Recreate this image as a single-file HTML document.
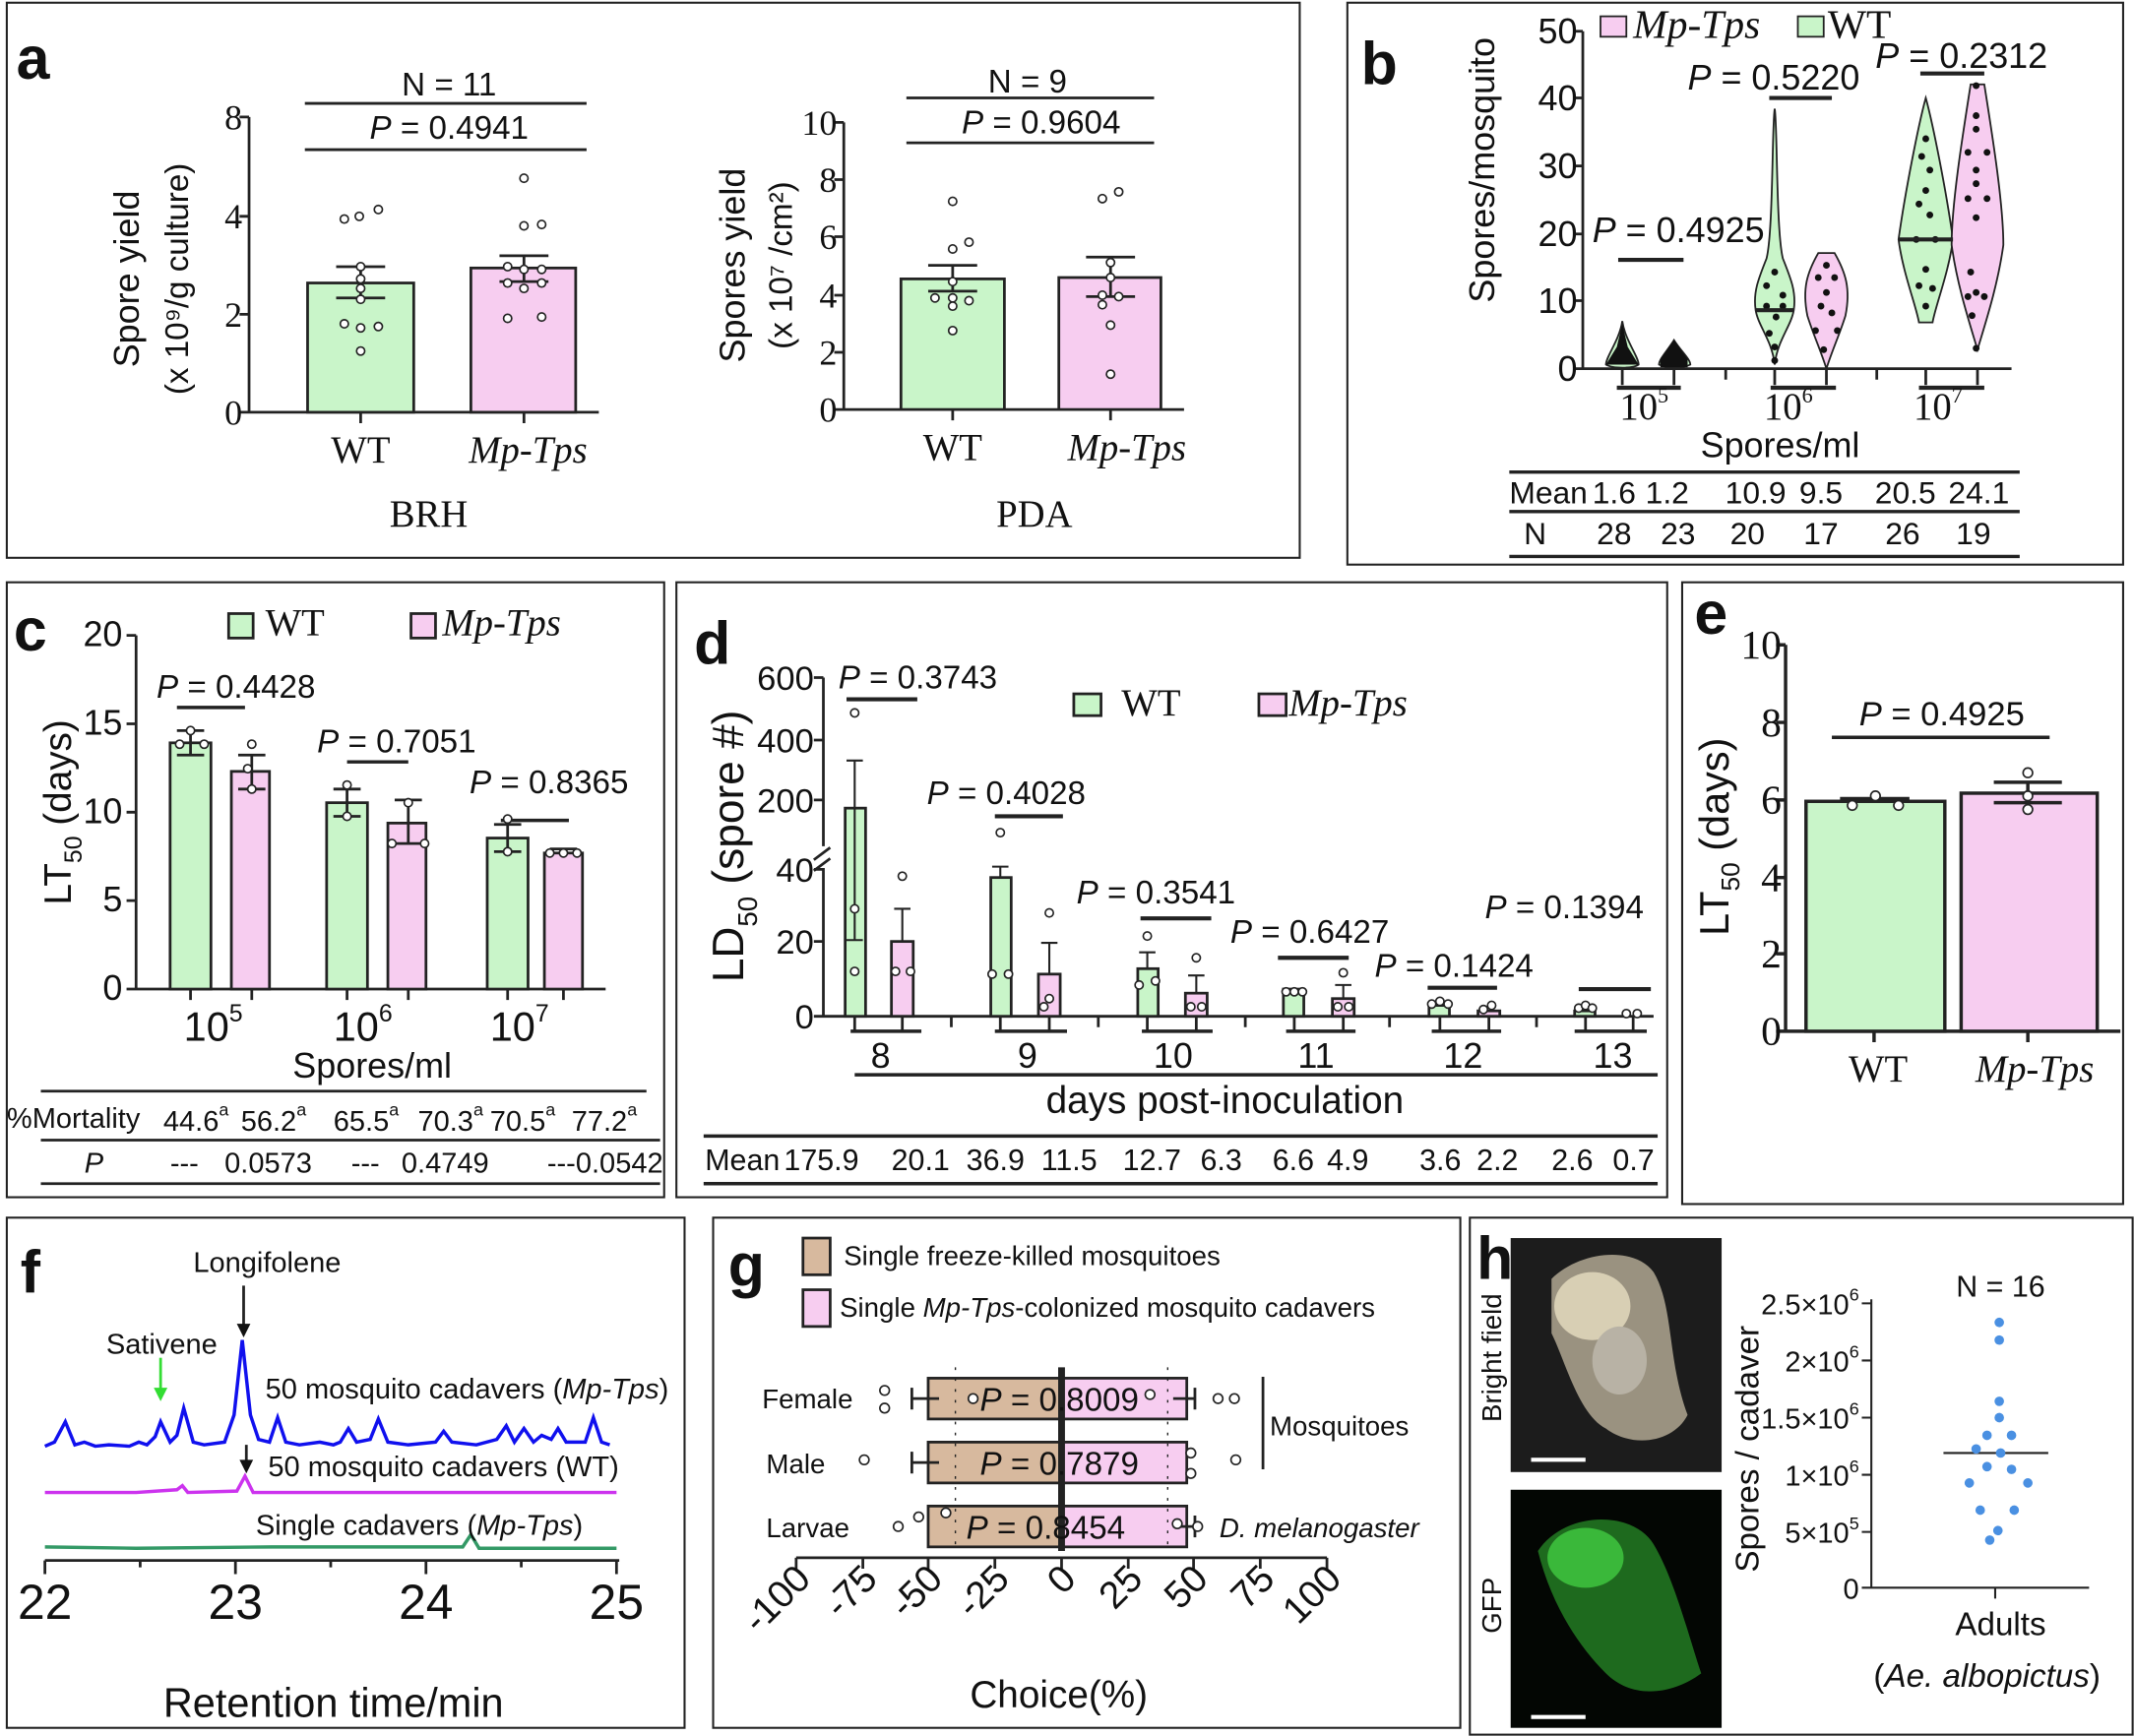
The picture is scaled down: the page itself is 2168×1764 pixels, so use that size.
<!DOCTYPE html>
<html><head><meta charset="utf-8"><style>
html,body{margin:0;padding:0;background:#fff}
svg{display:block}
text{font-family:"Liberation Sans",sans-serif;fill:#111}
.s{font-family:"Liberation Serif",serif}
.i{font-style:italic}
</style></head><body>
<svg width="2168" height="1764" viewBox="0 0 1568 1276" preserveAspectRatio="none" xmlns="http://www.w3.org/2000/svg">
<g fill="none" stroke="#222" stroke-width="1.5">
<rect x="5" y="2" width="950" height="408"/>
<rect x="990" y="2" width="570" height="413"/>
<rect x="5" y="428" width="483" height="452"/>
<rect x="497" y="428" width="728" height="452"/>
<rect x="1236" y="428" width="324" height="457"/>
<rect x="5" y="895" width="498" height="375"/>
<rect x="524" y="895" width="549" height="375"/>
<rect x="1080" y="895" width="487" height="380"/>
</g>
<g font-weight="bold" font-size="44">
<text x="12" y="58">a</text><text x="1000" y="62">b</text><text x="10" y="478">c</text>
<text x="510" y="488">d</text><text x="1245" y="466">e</text><text x="15" y="950">f</text>
<text x="535" y="945">g</text><text x="1085" y="940">h</text></g>

<!-- panel a left -->
<g stroke="#222" stroke-width="2" fill="none">
<path d="M183 86V303H440M176 86H183M176 159H183M176 231H183M176 303H183M265 303v8M385 303v8"/>
<rect x="226" y="208" width="78" height="95" fill="#c9f5c9"/>
<rect x="346" y="197" width="77" height="106" fill="#f7cdf0"/>
<path d="M224 76H431M224 110H431M247 196H283M265 196V219M247 219H283M367 188H403M385 188V207M367 207H403"/>
</g>
<g fill="#fff" stroke="#222" stroke-width="1.2">
<circle cx="253" cy="161" r="3"/><circle cx="264" cy="159" r="3"/><circle cx="278" cy="154" r="3"/><circle cx="265" cy="196" r="3"/><circle cx="265" cy="205" r="3"/><circle cx="265" cy="212" r="3"/><circle cx="265" cy="220" r="3"/><circle cx="253" cy="238" r="3"/><circle cx="265" cy="241" r="3"/><circle cx="278" cy="240" r="3"/><circle cx="265" cy="258" r="3"/>
<circle cx="385" cy="131" r="3"/><circle cx="385" cy="166" r="3"/><circle cx="398" cy="165" r="3"/><circle cx="373" cy="196" r="3"/><circle cx="385" cy="198" r="3"/><circle cx="398" cy="198" r="3"/><circle cx="373" cy="208" r="3"/><circle cx="385" cy="212" r="3"/><circle cx="398" cy="208" r="3"/><circle cx="373" cy="234" r="3"/><circle cx="398" cy="233" r="3"/>
</g>
<g font-size="26" text-anchor="end"><text class="s" x="178" y="95">8</text><text class="s" x="178" y="168">4</text><text class="s" x="178" y="240">2</text><text class="s" x="178" y="312">0</text></g>
<g font-size="28" text-anchor="middle"><text class="s" x="265" y="340">WT</text><text class="s i" x="388" y="340">Mp-Tps</text><text class="s" x="315" y="387">BRH</text>
<text x="330" y="70" font-size="24">N = 11</text><text x="330" y="102" font-size="24"><tspan class="i">P</tspan> = 0.4941</text></g>
<text transform="translate(102,205) rotate(-90)" text-anchor="middle" font-size="26">Spore yield</text>
<text transform="translate(138,205) rotate(-90)" text-anchor="middle" font-size="24">(x 10⁹/g culture)</text>

<!-- panel a right -->
<g stroke="#222" stroke-width="2" fill="none">
<path d="M620 90V301H870M613 90H620M613 132H620M613 174H620M613 217H620M613 259H620M613 301H620M700 301v8M816 301v8"/>
<rect x="662" y="205" width="76" height="96" fill="#c9f5c9"/>
<rect x="778" y="204" width="75" height="97" fill="#f7cdf0"/>
<path d="M666 72H848M666 105H848M682 195H718M700 195V214M682 214H718M798 189H834M816 189V218M798 218H834"/>
</g>
<g fill="#fff" stroke="#222" stroke-width="1.2">
<circle cx="700" cy="148" r="3"/><circle cx="700" cy="183" r="3"/><circle cx="712" cy="178" r="3"/><circle cx="700" cy="207" r="3"/><circle cx="687" cy="219" r="3"/><circle cx="700" cy="219" r="3"/><circle cx="712" cy="221" r="3"/><circle cx="700" cy="225" r="3"/><circle cx="700" cy="243" r="3"/>
<circle cx="810" cy="146" r="3"/><circle cx="822" cy="141" r="3"/><circle cx="816" cy="193" r="3"/><circle cx="816" cy="204" r="3"/><circle cx="810" cy="217" r="3"/><circle cx="822" cy="218" r="3"/><circle cx="810" cy="224" r="3"/><circle cx="816" cy="239" r="3"/><circle cx="816" cy="275" r="3"/>
</g>
<g font-size="26" text-anchor="end"><text class="s" x="615" y="99">10</text><text class="s" x="615" y="141">8</text><text class="s" x="615" y="183">6</text><text class="s" x="615" y="226">4</text><text class="s" x="615" y="268">2</text><text class="s" x="615" y="310">0</text></g>
<g font-size="28" text-anchor="middle"><text class="s" x="700" y="338">WT</text><text class="s i" x="828" y="338">Mp-Tps</text><text class="s" x="760" y="387">PDA</text>
<text x="755" y="68" font-size="24">N = 9</text><text x="765" y="98" font-size="24"><tspan class="i">P</tspan> = 0.9604</text></g>
<text transform="translate(547,195) rotate(-90)" text-anchor="middle" font-size="26">Spores yield</text>
<text transform="translate(582,195) rotate(-90)" text-anchor="middle" font-size="24">(x 10⁷ /cm²)</text>

<!-- panel b -->
<g stroke="#222" stroke-width="1.3">
<path d="M1192 236C1190 250 1180 262 1180 268C1185 271 1200 271 1204 268C1204 262 1194 250 1192 236Z" fill="#c9f5c9"/>
<path d="M1230 250C1225 258 1219 264 1219 268C1225 271 1236 271 1242 268C1242 264 1235 258 1230 250Z" fill="#c9f5c9"/>
<path d="M1304 80C1302 90 1303 170 1298 190C1292 205 1288 215 1290 228C1292 240 1302 250 1304 268C1306 250 1316 240 1318 228C1320 215 1316 205 1310 190C1305 170 1306 90 1304 80Z" fill="#c9f5c9"/>
<path d="M1336 186H1348C1356 200 1360 212 1356 232C1352 245 1346 258 1342 271C1338 258 1332 245 1328 232C1324 212 1328 200 1336 186Z" fill="#f7cdf0"/>
<path d="M1415 72C1410 90 1400 140 1395 176C1398 200 1408 225 1410 237H1420C1422 225 1432 200 1435 176C1430 140 1420 90 1415 72Z" fill="#c9f5c9"/>
<path d="M1448 62H1458C1464 100 1472 150 1472 180C1468 210 1458 240 1453 257C1448 240 1438 210 1434 180C1434 150 1442 100 1448 62Z" fill="#f7cdf0"/>
<rect x="1176" y="12" width="19" height="15" fill="#f7cdf0"/><rect x="1321" y="12" width="19" height="15" fill="#c9f5c9"/>
</g>
<g fill="#111">
<path d="M1192 238L1196 255L1204 268H1180L1188 255Z"/><path d="M1230 250L1240 264V270H1220V264Z"/>
<circle cx="1298" cy="210" r="2.5"/><circle cx="1304" cy="200" r="2.5"/><circle cx="1310" cy="217" r="2.5"/><circle cx="1298" cy="225" r="2.5"/><circle cx="1305" cy="233" r="2.5"/><circle cx="1310" cy="225" r="2.5"/><circle cx="1300" cy="245" r="2.5"/><circle cx="1304" cy="255" r="2.5"/><circle cx="1304" cy="265" r="2.5"/>
<circle cx="1342" cy="195" r="2.5"/><circle cx="1336" cy="204" r="2.5"/><circle cx="1348" cy="204" r="2.5"/><circle cx="1342" cy="215" r="2.5"/><circle cx="1338" cy="225" r="2.5"/><circle cx="1346" cy="230" r="2.5"/><circle cx="1334" cy="243" r="2.5"/><circle cx="1350" cy="243" r="2.5"/><circle cx="1340" cy="257" r="2.5"/>
<circle cx="1415" cy="102" r="2.5"/><circle cx="1412" cy="115" r="2.5"/><circle cx="1418" cy="125" r="2.5"/><circle cx="1415" cy="140" r="2.5"/><circle cx="1410" cy="150" r="2.5"/><circle cx="1418" cy="158" r="2.5"/><circle cx="1408" cy="176" r="2.5"/><circle cx="1422" cy="176" r="2.5"/><circle cx="1415" cy="198" r="2.5"/><circle cx="1410" cy="210" r="2.5"/><circle cx="1420" cy="212" r="2.5"/><circle cx="1415" cy="225" r="2.5"/>
<circle cx="1452" cy="63" r="2.5"/><circle cx="1452" cy="85" r="2.5"/><circle cx="1452" cy="95" r="2.5"/><circle cx="1446" cy="112" r="2.5"/><circle cx="1460" cy="112" r="2.5"/><circle cx="1452" cy="125" r="2.5"/><circle cx="1452" cy="135" r="2.5"/><circle cx="1446" cy="146" r="2.5"/><circle cx="1460" cy="146" r="2.5"/><circle cx="1452" cy="160" r="2.5"/><circle cx="1448" cy="200" r="2.5"/><circle cx="1452" cy="215" r="2.5"/><circle cx="1446" cy="218" r="2.5"/><circle cx="1458" cy="218" r="2.5"/><circle cx="1449" cy="232" r="2.5"/><circle cx="1452" cy="256" r="2.5"/>
</g>
<g stroke="#222" stroke-width="2" fill="none">
<path d="M1163 23V271H1478M1156 23H1163M1156 72H1163M1156 122H1163M1156 172H1163M1156 221H1163M1156 271H1163"/>
<path d="M1192 271v12M1230 271v12M1268 271v8M1304 271v12M1342 271v12M1379 271v8M1415 271v12M1453 271v12"/>
<path d="M1188 285H1235M1301 285H1349M1410 285H1458" stroke-width="3"/>
<path d="M1189 191H1237M1300 72H1346M1411 54H1458M1395 176H1435M1290 228H1318" stroke-width="3"/>
<path d="M1109 347H1484M1109 376H1484M1109 409H1484" stroke-width="2.5"/>
</g>
<g font-size="26" text-anchor="end"><text x="1159" y="32">50</text><text x="1159" y="81">40</text><text x="1159" y="131">30</text><text x="1159" y="181">20</text><text x="1159" y="230">10</text><text x="1159" y="280">0</text></g>
<g font-size="26"><text class="s i" x="1200" y="28" font-size="30">Mp-Tps</text><text class="s" x="1343" y="28" font-size="30">WT</text>
<text x="1170" y="178"><tspan class="i">P</tspan> = 0.4925</text><text x="1240" y="66"><tspan class="i">P</tspan> = 0.5220</text><text x="1378" y="50"><tspan class="i">P</tspan> = 0.2312</text>
<text class="s" x="1190" y="308" font-size="28">10<tspan font-size="16" dy="-12">5</tspan></text><text class="s" x="1296" y="308" font-size="28">10<tspan font-size="16" dy="-12">6</tspan></text><text class="s" x="1406" y="308" font-size="28">10<tspan font-size="16" dy="-12">7</tspan></text>
<text x="1308" y="336" text-anchor="middle">Spores/ml</text></g>
<g font-size="23" text-anchor="middle"><text x="1109" y="370" text-anchor="start">Mean</text><text x="1186" y="370">1.6</text><text x="1225" y="370">1.2</text><text x="1290" y="370">10.9</text><text x="1338" y="370">9.5</text><text x="1400" y="370">20.5</text><text x="1454" y="370">24.1</text>
<text x="1128" y="400">N</text><text x="1186" y="400">28</text><text x="1233" y="400">23</text><text x="1284" y="400">20</text><text x="1338" y="400">17</text><text x="1398" y="400">26</text><text x="1450" y="400">19</text></g>
<text transform="translate(1098,125) rotate(-90)" text-anchor="middle" font-size="26">Spores/mosquito</text>

<!-- panel c -->
<g stroke="#222" stroke-width="2" fill="none">
<path d="M100 467V727H445M93 467H100M93 532H100M93 597H100M93 662H100M93 727H100M140 727v8M185 727v8M255 727v8M300 727v8M373 727v8M414 727v8"/>
<rect x="125" y="546" width="30" height="181" fill="#c9f5c9"/><rect x="170" y="567" width="28" height="160" fill="#f7cdf0"/>
<rect x="240" y="590" width="30" height="137" fill="#c9f5c9"/><rect x="285" y="605" width="28" height="122" fill="#f7cdf0"/>
<rect x="358" y="616" width="30" height="111" fill="#c9f5c9"/><rect x="400" y="627" width="28" height="100" fill="#f7cdf0"/>
<rect x="168" y="451" width="18" height="18" fill="#c9f5c9"/><rect x="302" y="451" width="18" height="18" fill="#f7cdf0"/>
<path d="M130 537H150M140 537V555M130 555H150M175 555H195M185 555V580M175 580H195M245 580H265M255 580V600M245 600H265M290 588H310M300 588V620M290 620H310M363 606H383M373 606V626M363 626H383M404 624H424"/>
<path d="M130 520H180M255 560H300M368 603H418" stroke-width="2.5"/>
<path d="M30 802H475M30 838H485M30 870H485"/>
</g>
<g fill="#fff" stroke="#222" stroke-width="1.2"><circle cx="132" cy="547" r="3"/><circle cx="140" cy="537" r="3"/><circle cx="150" cy="547" r="3"/><circle cx="185" cy="547" r="3"/><circle cx="185" cy="580" r="3"/><circle cx="182" cy="565" r="3"/><circle cx="255" cy="577" r="3"/><circle cx="255" cy="600" r="3"/><circle cx="288" cy="620" r="3"/><circle cx="300" cy="590" r="3"/><circle cx="312" cy="620" r="3"/><circle cx="373" cy="602" r="3"/><circle cx="373" cy="626" r="3"/><circle cx="404" cy="627" r="3"/><circle cx="414" cy="627" r="3"/><circle cx="424" cy="627" r="3"/></g>
<g font-size="26" text-anchor="end"><text x="90" y="475">20</text><text x="90" y="540">15</text><text x="90" y="605">10</text><text x="90" y="670">5</text><text x="90" y="735">0</text></g>
<g font-size="28"><text class="s" x="195" y="467">WT</text><text class="s i" x="325" y="467">Mp-Tps</text></g>
<g font-size="24"><text x="115" y="513"><tspan class="i">P</tspan> = 0.4428</text><text x="233" y="553"><tspan class="i">P</tspan> = 0.7051</text><text x="345" y="583"><tspan class="i">P</tspan> = 0.8365</text></g>
<g font-size="30"><text x="135" y="765">10<tspan font-size="18" dy="-14">5</tspan></text><text x="245" y="765">10<tspan font-size="18" dy="-14">6</tspan></text><text x="360" y="765">10<tspan font-size="18" dy="-14">7</tspan></text></g>
<text x="215" y="792" font-size="26">Spores/ml</text>
<g font-size="21"><text x="5" y="829">%Mortality</text>
<text x="120" y="831">44.6<tspan font-size="13" dy="-11">a</tspan></text><text x="177" y="831">56.2<tspan font-size="13" dy="-11">a</tspan></text><text x="245" y="831">65.5<tspan font-size="13" dy="-11">a</tspan></text><text x="307" y="831">70.3<tspan font-size="13" dy="-11">a</tspan></text><text x="360" y="831">70.5<tspan font-size="13" dy="-11">a</tspan></text><text x="420" y="831">77.2<tspan font-size="13" dy="-11">a</tspan></text>
<text x="62" y="862" class="i">P</text><text x="125" y="862">---</text><text x="165" y="862">0.0573</text><text x="258" y="862">---</text><text x="295" y="862">0.4749</text><text x="402" y="862">---</text><text x="423" y="862">0.0542</text></g>
<text transform="translate(52,597) rotate(-90)" text-anchor="middle" font-size="28">LT<tspan font-size="18" dy="8">50</tspan><tspan dy="-8"> (days)</tspan></text>

<!-- panel d -->
<g stroke="#222" stroke-width="2" fill="none">
<path d="M605 498V622M605 638V747H1215M598 498H605M598 544H605M598 588H605M598 639H605M598 692H605M598 747H605"/>
<path d="M598 632l12-9M598 640l12-9"/>
<path d="M628 747v10M663 747v10M699 747v8M735 747v10M771 747v10M807 747v8M843 747v10M879 747v10M915 747v8M951 747v10M987 747v10M1021 747v8M1058 747v10M1094 747v10M1129 747v8M1165 747v10M1200 747v10"/>
<rect x="621" y="594" width="15" height="153" fill="#c9f5c9"/><rect x="655" y="692" width="16" height="55" fill="#f7cdf0"/>
<rect x="728" y="645" width="15" height="102" fill="#c9f5c9"/><rect x="763" y="716" width="16" height="31" fill="#f7cdf0"/>
<rect x="836" y="712" width="15" height="35" fill="#c9f5c9"/><rect x="871" y="730" width="16" height="17" fill="#f7cdf0"/>
<rect x="943" y="727" width="15" height="20" fill="#c9f5c9"/><rect x="979" y="734" width="16" height="13" fill="#f7cdf0"/>
<rect x="1050" y="739" width="15" height="8" fill="#c9f5c9"/><rect x="1086" y="743" width="16" height="4" fill="#f7cdf0"/>
<rect x="1157" y="743" width="15" height="4" fill="#c9f5c9"/>
<rect x="789" y="510" width="20" height="16" fill="#c9f5c9"/><rect x="925" y="510" width="20" height="16" fill="#f7cdf0"/>
<path d="M628 559V691M622 559H634M622 691H634M663 668V692M657 668H669M735 637V645M729 637H741M771 693V716M765 693H777M843 700V712M837 700H849M879 717V730M873 717H885M987 724V734M981 724H993" stroke-width="1.5"/>
<path d="M622 514H674M731 600H781M838 675H890M939 704H991M1049 726H1100M1160 727H1213" stroke-width="3"/>
<path d="M625 758H677M731 758H784M839 758H891M945 758H996M1052 758H1103M1157 758H1210M628 790H1218M517 835H1218M517 870H1218" stroke-width="2.5"/>
</g>
<g fill="#fff" stroke="#222" stroke-width="1.2"><circle cx="628" cy="524" r="3"/><circle cx="628" cy="668" r="3"/><circle cx="628" cy="714" r="3"/><circle cx="663" cy="644" r="3"/><circle cx="658" cy="714" r="3"/><circle cx="669" cy="714" r="3"/><circle cx="735" cy="612" r="3"/><circle cx="729" cy="716" r="3"/><circle cx="741" cy="716" r="3"/><circle cx="771" cy="671" r="3"/><circle cx="771" cy="734" r="3"/><circle cx="767" cy="740" r="3"/><circle cx="843" cy="688" r="3"/><circle cx="837" cy="724" r="3"/><circle cx="849" cy="721" r="3"/><circle cx="879" cy="704" r="3"/><circle cx="875" cy="740" r="3"/><circle cx="883" cy="740" r="3"/><circle cx="945" cy="729" r="3"/><circle cx="951" cy="729" r="3"/><circle cx="957" cy="729" r="3"/><circle cx="987" cy="715" r="3"/><circle cx="983" cy="740" r="3"/><circle cx="991" cy="740" r="3"/><circle cx="1052" cy="738" r="3"/><circle cx="1058" cy="736" r="3"/><circle cx="1064" cy="738" r="3"/><circle cx="1090" cy="742" r="3"/><circle cx="1096" cy="739" r="3"/><circle cx="1160" cy="741" r="3"/><circle cx="1165" cy="739" r="3"/><circle cx="1170" cy="741" r="3"/><circle cx="1195" cy="745" r="3"/><circle cx="1203" cy="745" r="3"/></g>
<g font-size="25" text-anchor="end"><text x="598" y="507">600</text><text x="598" y="553">400</text><text x="598" y="597">200</text><text x="598" y="648">40</text><text x="598" y="701">20</text><text x="598" y="756">0</text></g>
<g font-size="24"><text x="616" y="506"><tspan class="i">P</tspan> = 0.3743</text><text x="681" y="591"><tspan class="i">P</tspan> = 0.4028</text><text x="791" y="664"><tspan class="i">P</tspan> = 0.3541</text><text x="904" y="693"><tspan class="i">P</tspan> = 0.6427</text><text x="1010" y="718"><tspan class="i">P</tspan> = 0.1424</text><text x="1091" y="675"><tspan class="i">P</tspan> = 0.1394</text></g>
<g font-size="28"><text class="s" x="824" y="526">WT</text><text class="s i" x="947" y="526">Mp-Tps</text></g>
<g font-size="26" text-anchor="middle"><text x="647" y="785">8</text><text x="755" y="785">9</text><text x="862" y="785">10</text><text x="967" y="785">11</text><text x="1075" y="785">12</text><text x="1185" y="785">13</text><text x="900" y="818" font-size="28">days post-inoculation</text></g>
<g font-size="22"><text x="518" y="860">Mean</text><text x="576" y="860">175.9</text><text x="655" y="860">20.1</text><text x="710" y="860">36.9</text><text x="765" y="860">11.5</text><text x="825" y="860">12.7</text><text x="882" y="860">6.3</text><text x="935" y="860">6.6</text><text x="975" y="860">4.9</text><text x="1043" y="860">3.6</text><text x="1085" y="860">2.2</text><text x="1140" y="860">2.6</text><text x="1185" y="860">0.7</text></g>
<text transform="translate(546,622) rotate(-90)" text-anchor="middle" font-size="32">LD<tspan font-size="20" dy="10">50</tspan><tspan dy="-10"> (spore #)</tspan></text>

<!-- panel e -->
<g stroke="#222" stroke-width="2.5" fill="none">
<path d="M1312 474V758H1558M1305 474H1312M1305 531H1312M1305 588H1312M1305 645H1312M1305 701H1312M1305 758H1312M1377 758v8M1490 758v8"/>
<rect x="1327" y="589" width="102" height="169" fill="#c9f5c9"/><rect x="1441" y="583" width="100" height="175" fill="#f7cdf0"/>
<path d="M1346 542H1506M1352 587H1403M1465 575H1515M1490 575V590M1465 590H1515"/>
</g>
<g fill="#fff" stroke="#222" stroke-width="1.2"><circle cx="1361" cy="592" r="3.5"/><circle cx="1378" cy="585" r="3.5"/><circle cx="1395" cy="592" r="3.5"/><circle cx="1490" cy="568" r="3.5"/><circle cx="1490" cy="585" r="3.5"/><circle cx="1490" cy="595" r="3.5"/></g>
<g font-size="30" text-anchor="end"><text class="s" x="1309" y="484">10</text><text class="s" x="1309" y="541">8</text><text class="s" x="1309" y="598">6</text><text class="s" x="1309" y="655">4</text><text class="s" x="1309" y="711">2</text><text class="s" x="1309" y="768">0</text></g>
<text x="1366" y="533" font-size="25"><tspan class="i">P</tspan> = 0.4925</text>
<g font-size="28" text-anchor="middle"><text class="s" x="1380" y="795">WT</text><text class="s i" x="1495" y="795">Mp-Tps</text></g>
<text transform="translate(1270,615) rotate(-90)" text-anchor="middle" font-size="30">LT<tspan font-size="19" dy="8">50</tspan><tspan dy="-8"> (days)</tspan></text>

<!-- panel f -->
<g stroke="#222" stroke-width="2" fill="none"><path d="M33 1147H455M33 1147v10M103 1147v5M173 1147v10M243 1147v5M313 1147v10M383 1147v5M453 1147v10"/>
<path d="M179 945V975M181 1062V1075"/></g>
<path d="M179 983l-5-10h10z M181 1083l-5-10h10z" fill="#111"/>
<path d="M118 1030l-5-10h10z" fill="#33dd33"/><path d="M118 998V1022" stroke="#33dd33" stroke-width="2"/>
<path d="M33 1063L40 1060L48 1045L55 1062L62 1060L70 1063L80 1062L95 1063L102 1060L108 1062L114 1056L118 1045L125 1060L130 1055L135 1035L142 1060L150 1062L165 1060L172 1040L178 985L184 1040L190 1058L198 1060L204 1042L210 1060L220 1062L235 1060L245 1062L250 1060L256 1050L262 1060L272 1058L278 1043L285 1060L300 1062L320 1060L326 1052L332 1060L350 1062L365 1058L372 1048L378 1060L385 1050L392 1060L398 1055L405 1058L410 1050L416 1060L430 1060L436 1042L442 1060L448 1062" fill="none" stroke="#1010ee" stroke-width="2.5"/>
<path d="M33 1097L100 1097L130 1095L134 1092L138 1097L174 1096L180 1085L186 1097L453 1097" fill="none" stroke="#cc33ee" stroke-width="2.5"/>
<path d="M33 1137L100 1138L200 1137L340 1137L346 1128L352 1138L453 1138" fill="none" stroke="#339966" stroke-width="2.5"/>
<g font-size="21"><text x="142" y="935">Longifolene</text><text x="78" y="995">Sativene</text><text x="195" y="1028">50 mosquito cadavers (<tspan class="i">Mp-Tps</tspan>)</text><text x="197" y="1085">50 mosquito cadavers (WT)</text><text x="188" y="1128">Single cadavers (<tspan class="i">Mp-Tps</tspan>)</text></g>
<g font-size="36" text-anchor="middle"><text x="33" y="1190">22</text><text x="173" y="1190">23</text><text x="313" y="1190">24</text><text x="453" y="1190">25</text></g>
<text x="245" y="1262" font-size="30" text-anchor="middle">Retention time/min</text>

<!-- panel g -->
<g stroke="#222" stroke-width="2">
<rect x="590" y="910" width="20" height="27" fill="#d7b99e"/><rect x="590" y="948" width="20" height="27" fill="#f7cdf0"/>
<rect x="682" y="1013" width="98" height="30" fill="#d7b99e"/><rect x="780" y="1013" width="92" height="30" fill="#f7cdf0"/>
<rect x="682" y="1060" width="98" height="30" fill="#d7b99e"/><rect x="780" y="1060" width="92" height="30" fill="#f7cdf0"/>
<rect x="682" y="1107" width="98" height="30" fill="#d7b99e"/><rect x="780" y="1107" width="92" height="30" fill="#f7cdf0"/>
<path d="M585 1145H975M585 1145v8M634 1145v8M682 1145v8M731 1145v8M780 1145v8M829 1145v8M877 1145v8M926 1145v8M975 1145v8M928 1012V1080M670 1020V1036M670 1028H690M670 1067V1083M670 1075H690M878 1020V1036M862 1028H878M878 1114V1130M862 1122H878" fill="none"/>
<path d="M780 1005V1140" stroke-width="5"/>
</g>
<path d="M702 1005V1140M858 1005V1140" stroke="#222" stroke-dasharray="2,6"/>
<g fill="#fff" stroke="#222" stroke-width="1.2"><circle cx="650" cy="1022" r="3.5"/><circle cx="650" cy="1035" r="3.5"/><circle cx="715" cy="1028" r="3.5"/><circle cx="845" cy="1025" r="3.5"/><circle cx="895" cy="1028" r="3.5"/><circle cx="907" cy="1028" r="3.5"/><circle cx="635" cy="1073" r="3.5"/><circle cx="875" cy="1068" r="3.5"/><circle cx="875" cy="1083" r="3.5"/><circle cx="908" cy="1073" r="3.5"/><circle cx="660" cy="1122" r="3.5"/><circle cx="675" cy="1115" r="3.5"/><circle cx="695" cy="1112" r="3.5"/><circle cx="865" cy="1120" r="3.5"/><circle cx="880" cy="1122" r="3.5"/></g>
<g font-size="20"><text x="620" y="930">Single freeze-killed mosquitoes</text><text x="617" y="968">Single <tspan class="i">Mp-Tps</tspan>-colonized mosquito cadavers</text>
<text x="560" y="1035">Female</text><text x="563" y="1083">Male</text><text x="563" y="1130">Larvae</text><text x="933" y="1055">Mosquitoes</text><text x="896" y="1130" class="i">D. melanogaster</text></g>
<g font-size="24"><text x="720" y="1037"><tspan class="i">P</tspan> = 0.8009</text><text x="720" y="1084"><tspan class="i">P</tspan> = 0.7879</text><text x="710" y="1131"><tspan class="i">P</tspan> = 0.8454</text></g>
<g font-size="28" text-anchor="end">
<text transform="translate(597,1162) rotate(-45)">-100</text><text transform="translate(646,1162) rotate(-45)">-75</text><text transform="translate(694,1162) rotate(-45)">-50</text><text transform="translate(743,1162) rotate(-45)">-25</text><text transform="translate(792,1162) rotate(-45)">0</text><text transform="translate(841,1162) rotate(-45)">25</text><text transform="translate(889,1162) rotate(-45)">50</text><text transform="translate(938,1162) rotate(-45)">75</text><text transform="translate(987,1162) rotate(-45)">100</text></g>
<text x="778" y="1255" font-size="28" text-anchor="middle">Choice(%)</text>

<!-- panel h -->
<rect x="1110" y="910" width="155" height="172" fill="#1c1c1c"/>
<path d="M1140 940C1160 920 1200 915 1215 935C1230 960 1225 1000 1240 1040C1230 1060 1200 1065 1180 1050C1160 1040 1150 1000 1140 980Z" fill="#9a9280"/>
<ellipse cx="1170" cy="960" rx="28" ry="25" fill="#d8cfb4"/><ellipse cx="1190" cy="1000" rx="20" ry="25" fill="#b8b2a5"/>
<rect x="1110" y="1095" width="155" height="175" fill="#030603"/>
<path d="M1130 1140C1150 1110 1200 1110 1215 1135C1230 1160 1240 1200 1250 1230C1230 1245 1200 1250 1180 1230C1160 1210 1140 1180 1130 1140Z" fill="#1e6a1e"/>
<ellipse cx="1165" cy="1145" rx="28" ry="22" fill="#3ab83a"/>
<path d="M1125 1073H1165M1125 1262H1165" stroke="#fff" stroke-width="3"/>
<text transform="translate(1103,998) rotate(-90)" text-anchor="middle" font-size="20">Bright field</text>
<text transform="translate(1103,1180) rotate(-90)" text-anchor="middle" font-size="20">GFP</text>
<g stroke="#222" stroke-width="1.5" fill="none"><path d="M1375 955V1167H1535M1368 958H1375M1368 1000H1375M1368 1042H1375M1368 1084H1375M1368 1126H1375M1368 1167H1375M1466 1167v8M1428 1068H1505"/></g>
<g fill="#4a90e2"><circle cx="1469" cy="972" r="3.5"/><circle cx="1469" cy="985" r="3.5"/><circle cx="1469" cy="1030" r="3.5"/><circle cx="1469" cy="1042" r="3.5"/><circle cx="1460" cy="1055" r="3.5"/><circle cx="1478" cy="1055" r="3.5"/><circle cx="1452" cy="1065" r="3.5"/><circle cx="1470" cy="1068" r="3.5"/><circle cx="1460" cy="1078" r="3.5"/><circle cx="1478" cy="1080" r="3.5"/><circle cx="1447" cy="1090" r="3.5"/><circle cx="1490" cy="1090" r="3.5"/><circle cx="1455" cy="1110" r="3.5"/><circle cx="1480" cy="1110" r="3.5"/><circle cx="1468" cy="1125" r="3.5"/><circle cx="1462" cy="1132" r="3.5"/></g>
<g font-size="21" text-anchor="end"><text x="1366" y="966">2.5×10<tspan font-size="13" dy="-10">6</tspan></text><text x="1366" y="1008">2×10<tspan font-size="13" dy="-10">6</tspan></text><text x="1366" y="1050">1.5×10<tspan font-size="13" dy="-10">6</tspan></text><text x="1366" y="1092">1×10<tspan font-size="13" dy="-10">6</tspan></text><text x="1366" y="1134">5×10<tspan font-size="13" dy="-10">5</tspan></text><text x="1366" y="1175">0</text></g>
<text x="1470" y="953" font-size="22" text-anchor="middle">N = 16</text>
<text x="1470" y="1202" font-size="24" text-anchor="middle">Adults</text>
<text x="1460" y="1240" font-size="24" text-anchor="middle">(<tspan class="i">Ae. albopictus</tspan>)</text>
<text transform="translate(1292,1065) rotate(-90)" text-anchor="middle" font-size="24">Spores / cadaver</text>
</svg>
</body></html>
